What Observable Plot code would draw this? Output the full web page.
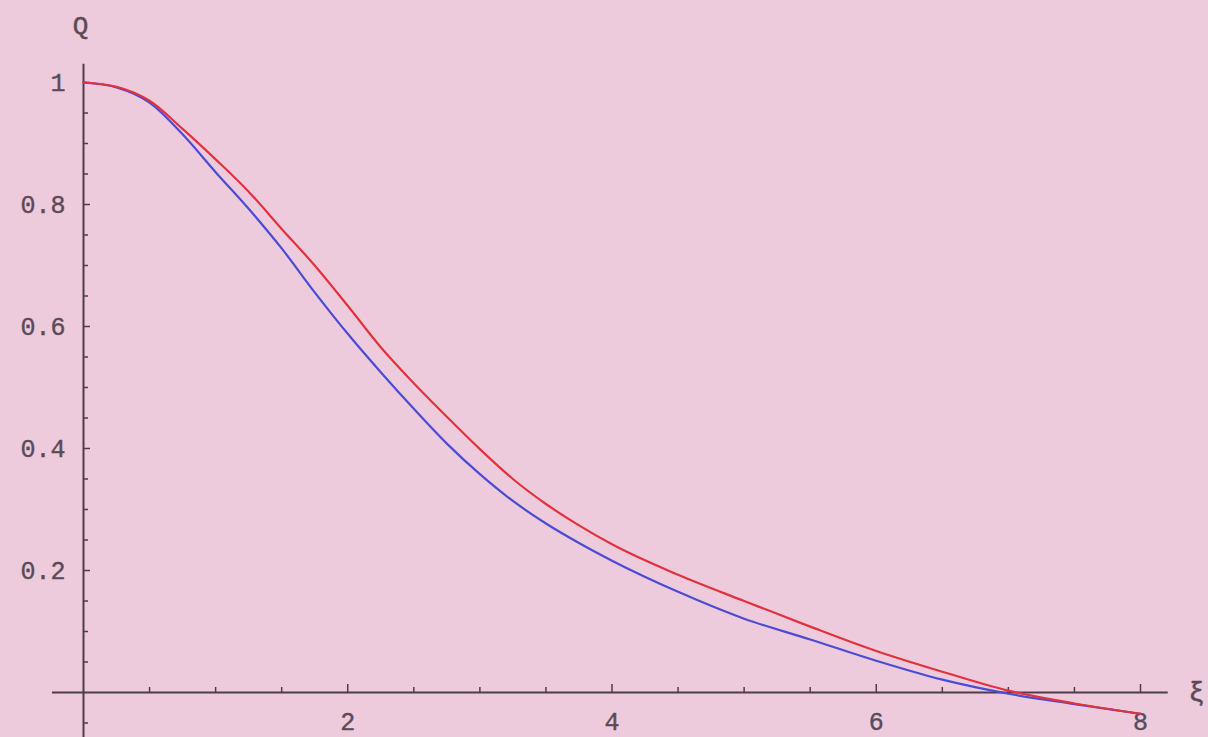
<!DOCTYPE html>
<html>
<head>
<meta charset="utf-8">
<script src="https://cdn.jsdelivr.net/npm/d3@7"></script>
<script src="https://cdn.jsdelivr.net/npm/@observablehq/plot@0.6"></script>
<style>
  html, body { margin: 0; padding: 0; background: #eecbdc; }
  #chart svg { display: block; }
</style>
</head>
<body>
<div id="chart"></div>
<script>
// ---- data ----
const xi = [0, 0.25, 0.5, 0.75, 1, 1.25, 1.5, 1.75, 2, 2.25, 2.5, 2.75, 3, 3.25, 3.5, 3.75, 4, 4.5, 5, 5.5, 6, 6.5, 7, 7.5, 8];
const redQ = [1.0, 0.993, 0.970, 0.924, 0.874, 0.821, 0.760, 0.700, 0.634, 0.566, 0.507, 0.452, 0.399, 0.350, 0.309, 0.274, 0.243, 0.193, 0.150, 0.108, 0.068, 0.034, 0.003, -0.018, -0.035];
const blueQ = [1.0, 0.992, 0.967, 0.915, 0.853, 0.793, 0.728, 0.656, 0.588, 0.525, 0.465, 0.408, 0.358, 0.314, 0.277, 0.245, 0.216, 0.165, 0.121, 0.087, 0.052, 0.021, -0.002, -0.019, -0.035];

const xMajor = [2, 4, 6, 8];
const xTickLabels = ["2", "4", "6", "8"];
const xMinor = [0.5, 1, 1.5, 2.5, 3, 3.5, 4.5, 5, 5.5, 6.5, 7, 7.5];
const yMajor = [0.2, 0.4, 0.6, 0.8, 1];
const yTickLabels = ["0.2", "0.4", "0.6", "0.8", "1"];
const yMinor = [-0.05, 0.05, 0.1, 0.15, 0.25, 0.3, 0.35, 0.45, 0.5, 0.55, 0.65, 0.7, 0.75, 0.85, 0.9, 0.95];
const yLabel = "Q";
const xLabel = "ξ";

// axis extents (Mathematica-style axes crossing at the origin)
const xAxisExtent = [-0.235, 8.21];
const yAxisExtent = [-0.075, 1.03];

const red = xi.map((x, i) => ({x, q: redQ[i]}));
const blue = xi.map((x, i) => ({x, q: blueQ[i]}));

const axisColor = "#4d3d4b";
const textColor = "#5a4a58";
const mono = "'Liberation Mono', 'DejaVu Sans Mono', monospace";

const chart = Plot.plot({
  width: 1208,
  height: 737,
  marginLeft: 83,
  marginRight: 68,
  marginTop: 82,
  marginBottom: 45,
  style: {background: "#eecbdc", overflow: "visible"},
  x: {domain: [0, 8], axis: null},
  y: {domain: [0, 1], axis: null},
  marks: [
    // tick labels
    Plot.text(xMajor, {x: d => d, y: 0, text: (d, i) => xTickLabels[i], dy: 29, fontSize: 25, fontFamily: mono, fill: textColor, stroke: textColor, strokeWidth: 0.4, textAnchor: "middle", lineAnchor: "middle"}),
    Plot.text(yMajor, {x: 0, y: d => d, text: (d, i) => yTickLabels[i], dx: -18, fontSize: 25, fontFamily: mono, fill: textColor, stroke: textColor, strokeWidth: 0.4, textAnchor: "end", lineAnchor: "middle"}),
    // axis lines
    Plot.ruleY([0], {x1: xAxisExtent[0], x2: xAxisExtent[1], stroke: axisColor, strokeWidth: 2}),
    Plot.ruleX([0], {y1: yAxisExtent[0], y2: yAxisExtent[1], stroke: axisColor, strokeWidth: 2}),
    // ticks (pointing inward)
    Plot.axisX({ticks: xMinor, tickSize: -5, fill: "none", label: null, stroke: axisColor, strokeWidth: 1.5}),
    Plot.axisX({ticks: xMajor, tickSize: -8, fill: "none", label: null, stroke: axisColor, strokeWidth: 1.5}),
    Plot.axisY({ticks: yMinor, tickSize: -5, fill: "none", label: null, stroke: axisColor, strokeWidth: 1.5}),
    Plot.axisY({ticks: yMajor, tickSize: -7, fill: "none", label: null, stroke: axisColor, strokeWidth: 1.5}),
    // axis labels
    Plot.text([yLabel], {frameAnchor: "top-left", dx: -3, dy: -57, fontSize: 26, fontFamily: mono, fill: textColor, stroke: textColor, strokeWidth: 0.5, textAnchor: "middle", lineAnchor: "middle"}),
    Plot.text([xLabel], {frameAnchor: "bottom-right", dx: 48, dy: 0, fontSize: 27, fontFamily: mono, fill: textColor, stroke: textColor, strokeWidth: 0.5, textAnchor: "start", lineAnchor: "middle"}),
    // curves
    Plot.line(blue, {x: "x", y: "q", stroke: "#4b4bd6", strokeWidth: 2.2, curve: "monotone-x"}),
    Plot.line(red, {x: "x", y: "q", stroke: "#e2323e", strokeWidth: 2.2, curve: "monotone-x"})
  ]
});
document.getElementById("chart").appendChild(chart);
</script>
</body>
</html>
